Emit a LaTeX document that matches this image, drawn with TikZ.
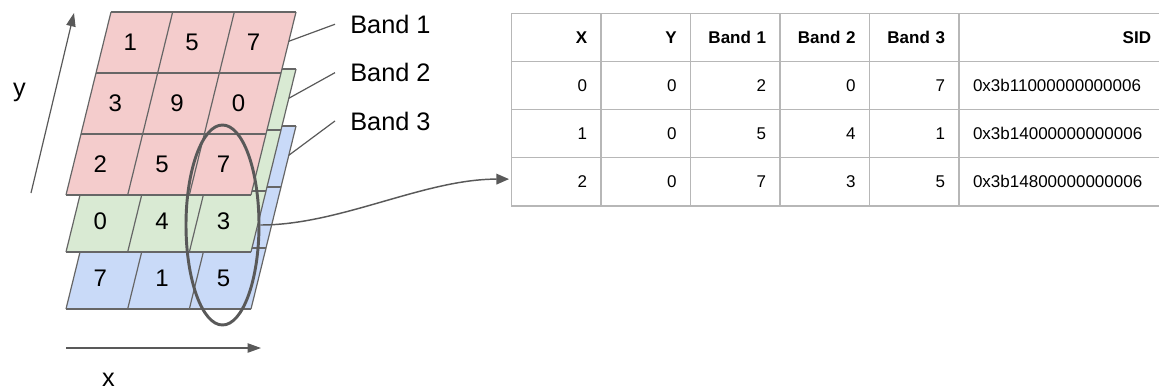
\documentclass[tikz,border=0pt]{standalone}
\usepackage{fontspec}
\setmainfont{Liberation Sans}
\usetikzlibrary{arrows.meta,positioning,matrix,shapes.geometric}

\definecolor{bandred}{HTML}{F4CCCC}
\definecolor{bandgreen}{HTML}{D9EAD3}
\definecolor{bandblue}{HTML}{C9DAF8}
\definecolor{edgegray}{HTML}{666666}
\definecolor{inkgray}{HTML}{595959}
\definecolor{rulegray}{HTML}{B7B7B7}

\begin{document}
\begin{tikzpicture}[
    x=0.75pt, y=-0.75pt,
    band/.style={shift={(111,#1)}, x={(46.25pt,0pt)}, y={(-11.25pt,-45.75pt)}},
    gridline/.style={draw=edgegray, line width=0.9pt},
    cellnum/.style={font=\fontsize{18}{20}\selectfont, xshift=-3pt, inner sep=0pt},
    bandlabel/.style={font=\fontsize{19}{22}\selectfont, inner xsep=11.25pt, inner ysep=0pt, anchor=base west},
    axislabel/.style={font=\fontsize{19}{22}\selectfont, inner sep=0pt, anchor=base},
    leader/.style={draw=inkgray, line width=0.9pt},
    axis/.style={-{Triangle[length=10pt,width=7pt]}, draw=inkgray, line width=0.9pt},
    connector/.style={-{Triangle[length=9.5pt,width=8pt]}, draw=inkgray, line width=1.1pt},
    selection/.style={ellipse, draw=inkgray, line width=2.2pt, minimum width=54.75pt, minimum height=150pt, inner sep=0pt},
    rule/.style={draw=rulegray, line width=1.1pt, line cap=rect},
    cell/.style={anchor=center, outer sep=0pt, minimum height=36.1pt, inner xsep=10.5pt, inner ysep=2pt, text width=46.1pt, align=right, font=\fontsize{12.75}{15}\selectfont},
    headcell/.style={cell, font=\fontsize{12.75}{15}\selectfont\bfseries},
    sidcell/.style={cell, text width=133.5pt, align=left},
    sidhead/.style={sidcell, align=right, font=\fontsize{12.75}{15}\selectfont\bfseries}
  ]
    \useasboundingbox (0,0) rectangle (1159,390);

    % Band 3
    \begin{scope}[band=126]
      \fill[bandblue] (0,0) -- (3,0) -- (3,3) -- (0,3) -- cycle;
      \foreach \k in {0,...,3} {
        \draw[gridline] (\k,0) -- (\k,3);
        \draw[gridline] (0,\k) -- (3,\k);
      }
      \coordinate (b3-tag) at (3,0.48);
      \foreach \v [count=\i from 0] in {7,1,5}
        \node[cellnum] (b3-\i-2) at (\i+0.5,2.5) {\v};
    \end{scope}

    % Band 2
    \begin{scope}[band=69]
      \fill[bandgreen] (0,0) -- (3,0) -- (3,3) -- (0,3) -- cycle;
      \foreach \k in {0,...,3} {
        \draw[gridline] (\k,0) -- (\k,3);
        \draw[gridline] (0,\k) -- (3,\k);
      }
      \coordinate (b2-tag) at (3,0.48);
      \foreach \v [count=\i from 0] in {0,4,3}
        \node[cellnum] (b2-\i-2) at (\i+0.5,2.5) {\v};
    \end{scope}

    % Band 1
    \begin{scope}[band=12]
      \fill[bandred] (0,0) -- (3,0) -- (3,3) -- (0,3) -- cycle;
      \foreach \k in {0,...,3} {
        \draw[gridline] (\k,0) -- (\k,3);
        \draw[gridline] (0,\k) -- (3,\k);
      }
      \coordinate (b1-tag) at (3,0.48);
      \foreach \row [count=\j from 0] in {{1,5,7},{3,9,0},{2,5,7}}
        \foreach \v [count=\i from 0] in \row
          \node[cellnum] (b1-\i-\j) at (\i+0.5,\j+0.5) {\v};
    \end{scope}

    % Band names
    \node[bandlabel] (lab1) at (335,33.3) {Band 1};
    \node[bandlabel] (lab2) at (335,81.7) {Band 2};
    \node[bandlabel] (lab3) at (335,130) {Band 3};
    \draw[leader] (b1-tag) -- (lab1.west);
    \draw[leader] (b2-tag) -- (lab2.west);
    \draw[leader] (b3-tag) -- (lab3.west);

    % Axes
    \coordinate (yfoot) at (31,193);
    \coordinate (ytip) at (74,13);
    \coordinate (xfoot) at (66,348);
    \coordinate (xtip) at (261,348);
    \draw[axis] (yfoot) -- (ytip);
    \draw[axis] (xfoot) -- (xtip);
    \node[axislabel] (ylab) at (19.5,96) {y};
    \node[axislabel] (xlab) at (108.5,386) {x};

    % Pixel table
    \matrix (tab) [
      matrix of nodes,
      nodes={cell},
      row 1/.style={nodes={headcell}},
      column 6/.style={nodes={sidcell}},
      row sep=0pt,
      column sep=0pt,
      inner sep=0pt,
      outer sep=0pt,
      anchor=north west
    ] at (511.7,13.3) {
      X & Y & Band 1 & Band 2 & Band 3 & |[sidhead]| SID \\
      0 & 0 & 2 & 0 & 7 & 0x3b11000000000006 \\
      1 & 0 & 5 & 4 & 1 & 0x3b14000000000006 \\
      2 & 0 & 7 & 3 & 5 & 0x3b14800000000006 \\
    };
    \foreach \r in {1,...,4}
      \draw[rule] (tab-\r-1.north west) -- (tab-\r-6.north east);
    \draw[rule] (tab-4-1.south west) -- (tab-4-6.south east);
    \foreach \c in {1,...,6}
      \draw[rule] (tab-1-\c.north west) -- (tab-4-\c.south west);
    \draw[rule] (tab-1-6.north east) -- (tab-4-6.south east);

    % Selected column and its row
    \node[selection] (sel) at (222.5,225) {};
    \draw[connector, shorten >=2pt] (sel.east) .. controls +(80,0) and +(-88,0) .. ([yshift=2pt]tab-4-1.west);
  \end{tikzpicture}
\end{document}
